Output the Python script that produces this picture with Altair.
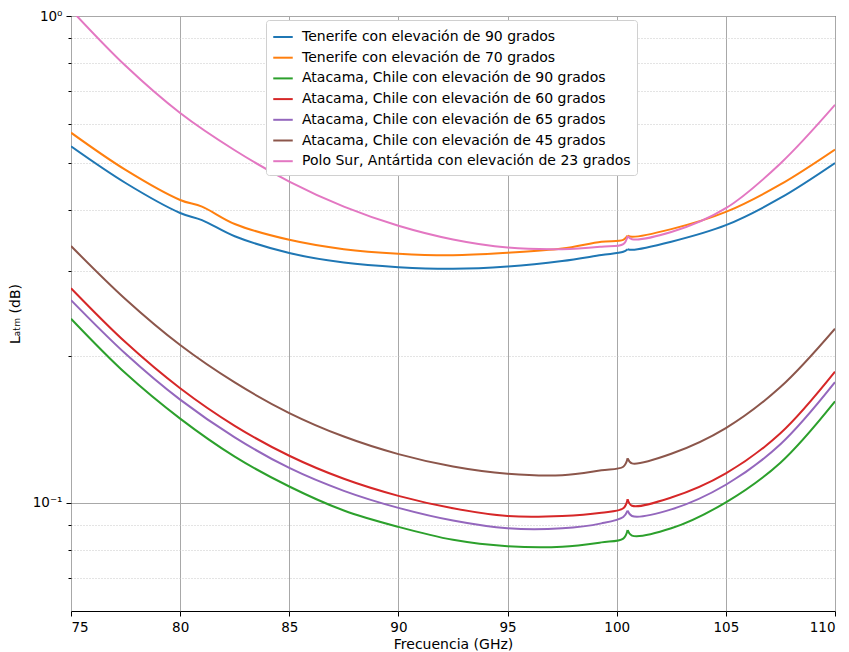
import altair as alt
import pandas as pd

freq = [75, 77.5, 80, 81, 82.5, 85, 87.5, 90, 92.5, 95, 97.5, 99.3, 100.3, 100.5, 100.7, 102.5, 105, 107.5, 110]

tenerife_90 = [0.54, 0.454, 0.394, 0.381, 0.353, 0.326, 0.3117, 0.305, 0.3027, 0.306, 0.314, 0.323, 0.328, 0.332, 0.331, 0.344, 0.372, 0.423, 0.499]
tenerife_70 = [0.576, 0.483, 0.419, 0.406, 0.374, 0.347, 0.332, 0.325, 0.3227, 0.3265, 0.333, 0.344, 0.347, 0.354, 0.352, 0.365, 0.396, 0.451, 0.532]
atacama_90 = [0.239, 0.1846, 0.149, None, 0.1245, 0.1081, 0.0965, 0.0893, 0.0840, 0.0815, 0.0813, 0.0830, 0.0845, 0.088, 0.0857, 0.0887, 0.1003, 0.121, 0.1617]
atacama_60 = [0.276, 0.2137, 0.172, None, 0.144, 0.125, 0.1121, 0.1034, 0.0975, 0.094, 0.094, 0.0955, 0.0975, 0.1018, 0.0987, 0.1026, 0.1150, 0.139, 0.186]
atacama_65 = [0.261, 0.2025, 0.163, None, 0.1364, 0.118, 0.1059, 0.0977, 0.0920, 0.0887, 0.0887, 0.0908, 0.0936, 0.0964, 0.094, 0.097, 0.1090, 0.132, 0.177]
atacama_45 = [0.337, 0.262, 0.211, None, 0.1768, 0.153, 0.1369, 0.126, 0.1188, 0.1148, 0.114, 0.1167, 0.1187, 0.1235, 0.1206, 0.1262, 0.1425, 0.173, 0.228]
polo_sur_23 = [1.03, 0.79, 0.632, None, 0.530, 0.457, 0.406, 0.371, 0.3477, 0.3346, 0.332, 0.336, 0.340, 0.353, 0.348, 0.360, 0.403, 0.498, 0.657]

names = [
    "Tenerife con elevación de 90 grados",
    "Tenerife con elevación de 70 grados",
    "Atacama, Chile con elevación de 90 grados",
    "Atacama, Chile con elevación de 60 grados",
    "Atacama, Chile con elevación de 65 grados",
    "Atacama, Chile con elevación de 45 grados",
    "Polo Sur, Antártida con elevación de 23 grados",
]
colors = ["#1f77b4", "#ff7f0e", "#2ca02c", "#d62728", "#9467bd", "#8c564b", "#e377c2"]
series = [tenerife_90, tenerife_70, atacama_90, atacama_60, atacama_65, atacama_45, polo_sur_23]

spike_f = 100.5
x_ticks = [75, 80, 85, 90, 95, 100, 105, 110]
y_ticks = [0.07, 0.08, 0.09, 0.1, 0.2, 0.3, 0.4, 0.5, 0.6, 0.7, 0.8, 0.9, 1.0]

rows = []
for name, vals in zip(names, series):
    for f, v in zip(freq, vals):
        if v is None:
            continue
        # split each curve at the line peak so the cusp stays sharp
        if f <= spike_f:
            rows.append({"f": f, "L": v, "serie": name, "tramo": name + " a"})
        if f >= spike_f:
            rows.append({"f": f, "L": v, "serie": name, "tramo": name + " b"})
df = pd.DataFrame(rows)

major = "datum.value === 0.1 || datum.value === 1"

chart = alt.Chart(df).mark_line(strokeWidth=2, clip=True, interpolate="catmull-rom").encode(
    x=alt.X("f:Q", title="Frecuencia (GHz)",
            scale=alt.Scale(domain=[75, 110], nice=False, zero=False),
            axis=alt.Axis(values=x_ticks, format="d", gridColor="#a8a8a8", gridWidth=1,
                          tickSize=5, tickColor="black", domain=False, labelPadding=4)),
    y=alt.Y("L:Q", title="Lₐₜₘ (dB)",
            scale=alt.Scale(type="log", domain=[0.06, 1], nice=False),
            axis=alt.Axis(values=y_ticks,
                          labelExpr="datum.value === 1 ? '10⁰' : (datum.value === 0.1 ? '10⁻¹' : '')",
                          gridDash={"condition": {"test": major, "value": []}, "value": [1, 2]},
                          gridColor={"condition": {"test": major, "value": "#a8a8a8"}, "value": "#c8c8c8"},
                          tickSize={"condition": {"test": major, "value": 5}, "value": 3},
                          tickColor="black", domain=False, labelPadding=4, titlePadding=10)),
    color=alt.Color("serie:N", sort=names,
                    scale=alt.Scale(domain=names, range=colors),
                    legend=alt.Legend(title=None, orient="none", legendX=195, legendY=4,
                                      symbolType="stroke", symbolStrokeWidth=2, symbolSize=380,
                                      labelFontSize=14, labelLimit=500, rowPadding=2.7,
                                      labelOffset=8,
                                      fillColor="white", strokeColor="#d0d0d0", padding=6,
                                      cornerRadius=3)),
    detail="tramo:N",
).properties(
    width=764, height=595, padding={"left": 0, "top": 1, "right": 5, "bottom": 5}
).configure_view(
    stroke="black", strokeWidth=1
).configure_axis(
    labelFont="DejaVu Sans", titleFont="DejaVu Sans", labelFontSize=13.5, titleFontSize=14,
    titleFontWeight="normal", labelColor="black", titleColor="black"
).configure_legend(
    labelFont="DejaVu Sans", labelColor="black"
)

chart.save("out.html", embed_options={"renderer": "svg", "actions": False})
